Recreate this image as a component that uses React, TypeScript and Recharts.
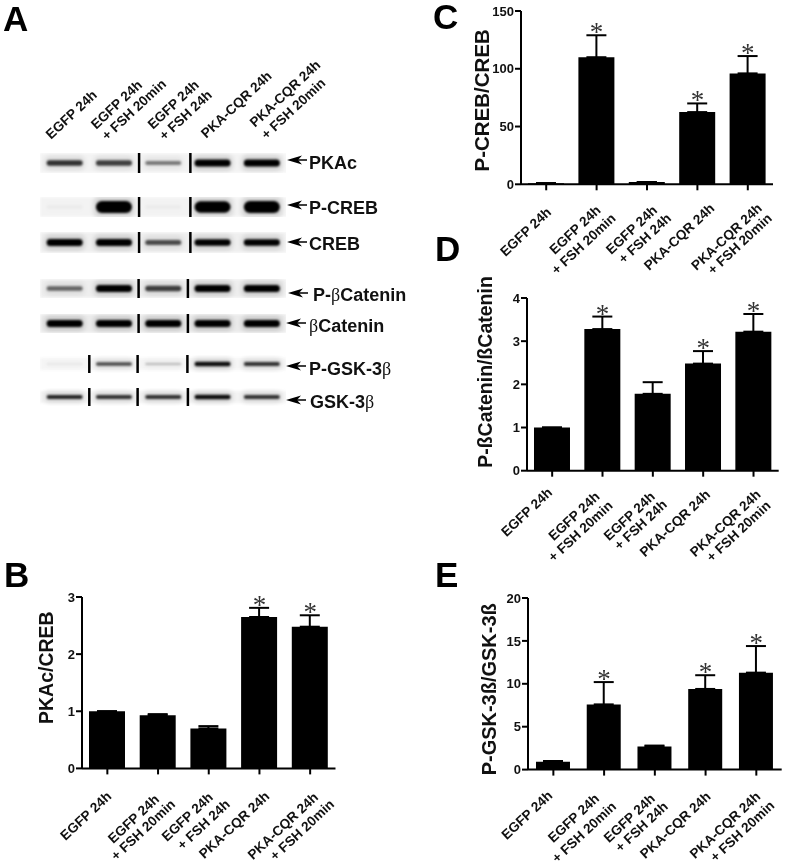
import {
  Bar,
  ComposedChart,
  ErrorBar,
  Line,
  ReferenceArea,
  ReferenceLine,
  Scatter,
  ScatterChart,
  XAxis,
  YAxis,
} from "recharts";

const FONT = "'Liberation Sans', Arial, sans-serif";

const laneLabels = [
  "EGFP 24h",
  "EGFP 24h|+ FSH 20min",
  "EGFP 24h|+ FSH 24h",
  "PKA-CQR 24h",
  "PKA-CQR 24h|+ FSH 20min",
];

// bar panels: means, upward error and whether an asterisk sits on the bar
const pkacMeans = [1, 0.93, 0.7, 2.65, 2.48];
const pkacErrors = [0, 0.02, 0.04, 0.16, 0.2];
const pkacStars = [false, false, false, true, true];
const pkacTicks = [0, 1, 2, 3];

const pcrebMeans = [1, 110, 2, 62.5, 96];
const pcrebErrors = [0, 19, 0, 7.5, 15];
const pcrebStars = [false, true, false, true, true];
const pcrebTicks = [0, 50, 100, 150];

const pcatMeans = [1, 3.28, 1.78, 2.48, 3.22];
const pcatErrors = [0, 0.29, 0.27, 0.29, 0.41];
const pcatStars = [false, true, false, true, true];
const pcatTicks = [0, 1, 2, 3, 4];

const pgskMeans = [0.9, 7.6, 2.7, 9.4, 11.3];
const pgskErrors = [0.1, 2.6, 0.1, 1.6, 3.1];
const pgskStars = [false, true, false, true, true];
const pgskTicks = [0, 5, 10, 15, 20];

// band darkness per lane on the blot
const pkacBands = [0.7, 0.65, 0.42, 1, 1];
const pcrebBands = [0.02, 1, 0.02, 0.95, 1];
const crebBands = [1, 1, 0.6, 0.9, 0.9];
const pcatBands = [0.5, 1, 0.65, 1, 1];
const catBands = [1, 1, 1, 1, 1];
const pgskBands = [0.06, 0.6, 0.2, 0.85, 0.7];
const gskBands = [0.75, 0.7, 0.7, 0.85, 0.7];

type Anchor = number[];

// end of each rotated label line, relative to its tick
const headerAnchors: Anchor[][] = [
  [[33.2, 34]],
  [[29, 24], [53, 23]],
  [[36.5, 24], [49.5, 34]],
  [[60, 15]],
  [[59.5, 4], [64.5, 22]],
];
const pkacAnchors: Anchor[][] = [
  [[5, 29]],
  [[2, 32], [18, 37]],
  [[5, 30], [22, 37]],
  [[11, 29]],
  [[9, 30], [25, 37]],
];
const pcrebAnchors: Anchor[][] = [
  [[6, 29]],
  [[5, 27], [20, 35]],
  [[11, 27], [25, 35]],
  [[18, 25]],
  [[15, 25], [25, 35]],
];
const pcatAnchors: Anchor[][] = [
  [[1, 23]],
  [[-2, 27], [11, 36]],
  [[3, 27], [15, 35]],
  [[8, 25]],
  [[8, 25], [18, 36]],
];
const pgskAnchors: Anchor[][] = [
  [[0, 27]],
  [[-4, 30], [13, 38]],
  [[1, 30], [14, 38]],
  [[6, 28]],
  [[5, 28], [19, 37]],
];

function AngledTick({ x, y, payload, index, anchors }: any) {
  const lines: string[] = String(payload.value).split("|");
  const laneAnchors = anchors[index];
  return (
    <g>
      {lines.map((line, i) => (
        <text
          key={line}
          transform={`translate(${x + laneAnchors[i][0]},${y - 6 + laneAnchors[i][1]}) rotate(-43)`}
          textAnchor="end"
          fontFamily={FONT}
          fontWeight={700}
          fontSize={13.6}
          fill="#111"
        >
          {line}
        </text>
      ))}
    </g>
  );
}

function StarDot({ cx, cy, value, index }: any) {
  if (value == null || cy == null) return <g key={index} />;
  return (
    <text
      key={index}
      x={cx}
      y={cy + 6}
      textAnchor="middle"
      fontFamily="'Liberation Serif', serif"
      fontSize={27}
      fill="#333"
    >
      *
    </text>
  );
}

interface BarPanelProps {
  left: number;
  top: number;
  width: number;
  height: number;
  title: string;
  titleDx: number;
  titleCy: number;
  titleSize: number;
  means: number[];
  errors: number[];
  stars: boolean[];
  ticks: number[];
  anchors: Anchor[][];
  barSize: number;
}

function BarPanel(p: BarPanelProps) {
  const data = laneLabels.map((lane, i) => ({
    lane,
    mean: p.means[i],
    err: [0, p.errors[i]],
    star: p.stars[i] ? p.means[i] + p.errors[i] : null,
  }));
  const axisStroke = { stroke: "#000", strokeWidth: 2 };
  return (
    <div style={{ position: "absolute", left: p.left - 60, top: p.top - 30 }}>
      <ComposedChart
        width={60 + p.width + 10}
        height={30 + p.height + 100}
        data={data}
        margin={{ top: 30, right: 10, bottom: 0, left: 0 }}
        style={{ overflow: "visible" }}
      >
        <XAxis
          dataKey="lane"
          height={100}
          interval={0}
          tickSize={6}
          tickMargin={0}
          axisLine={axisStroke}
          tickLine={axisStroke}
          tick={(t: any) => <AngledTick {...t} anchors={p.anchors} />}
        />
        <YAxis
          width={60}
          domain={[p.ticks[0], p.ticks[p.ticks.length - 1]]}
          ticks={p.ticks}
          interval={0}
          tickSize={6}
          tickMargin={1}
          axisLine={axisStroke}
          tickLine={axisStroke}
          tick={{ fontSize: 13, fontWeight: 700, fill: "#111", fontFamily: FONT }}
          label={{
            content: () => (
              <text
                transform={`translate(${60 - p.titleDx},${30 + p.titleCy}) rotate(-90)`}
                textAnchor="middle"
                dominantBaseline="central"
                fontFamily={FONT}
                fontWeight={700}
                fontSize={p.titleSize}
                fill="#111"
              >
                {p.title}
              </text>
            ),
          }}
        />
        <Bar dataKey="mean" fill="#000" barSize={p.barSize} isAnimationActive={false}>
          <ErrorBar dataKey="err" width={10} stroke="#000" strokeWidth={2} isAnimationActive={false} />
        </Bar>
        <Line
          dataKey="star"
          stroke="none"
          dot={(d: any) => <StarDot {...d} />}
          activeDot={false}
          isAnimationActive={false}
        />
      </ComposedChart>
    </div>
  );
}

function LaneHeader() {
  const data = laneLabels.map((lane) => ({ lane, n: 0 }));
  return (
    <div style={{ position: "absolute", left: 39.5, top: 30 }}>
      <ComposedChart
        width={346.5}
        height={132}
        data={data}
        margin={{ top: 30, right: 100, bottom: 0, left: 0 }}
        style={{ overflow: "visible" }}
      >
        <XAxis
          dataKey="lane"
          height={100}
          interval={0}
          tickSize={6}
          tickMargin={0}
          axisLine={false}
          tickLine={false}
          tick={(t: any) => <AngledTick {...t} anchors={headerAnchors} />}
        />
        <YAxis hide domain={[0, 1]} />
        <Bar dataKey="n" fill="none" isAnimationActive={false} />
      </ComposedChart>
    </div>
  );
}

function BlotBand({ cx, cy, payload, thickness }: any) {
  const v = payload.value;
  const h = thickness * (0.3 + 0.7 * v);
  return (
    <g>
      <rect
        x={cx - 20}
        y={cy - h / 2 - 4}
        width={40}
        height={h + 8}
        rx={5}
        fill="#000"
        opacity={0.14 * v}
        style={{ filter: "blur(2.5px)" }}
      />
      <rect
        x={cx - 18}
        y={cy - h / 2}
        width={36}
        height={h}
        rx={h / 2}
        fill="#000"
        opacity={Math.min(1, v * 1.1)}
        style={{ filter: "blur(0.9px)" }}
      />
    </g>
  );
}

interface BlotRowProps {
  name: React.ReactNode;
  bands: number[];
  cuts: number[];
  y: number;
  strip: number;
  chartHeight: number;
  thickness: number;
  arrowX: number;
  arrowY: number;
  labelX: number;
  labelY: number;
  shade: string;
}

function BlotRow(p: BlotRowProps) {
  const points = p.bands.map((value, lane) => ({ lane, mid: 0.5, value }));
  const ax = p.arrowX;
  const ay = p.arrowY;
  const inset = (1 - p.strip / p.chartHeight) / 2;
  return (
    <>
      <div style={{ position: "absolute", left: 39.5, top: p.y - p.chartHeight / 2 }}>
        <ScatterChart
          width={246.5}
          height={p.chartHeight}
          margin={{ top: 0, right: 0, bottom: 0, left: 0 }}
          style={{ overflow: "visible" }}
        >
          <XAxis hide type="number" dataKey="lane" domain={[-0.5, 4.5]} />
          <YAxis hide type="number" dataKey="mid" domain={[0, 1]} />
          <ReferenceArea
            x1={-0.5}
            x2={4.5}
            y1={inset}
            y2={1 - inset}
            fill={p.shade}
            fillOpacity={1}
            stroke="none"
            style={{ filter: "blur(1.5px)" }}
          />
          <Scatter
            data={points}
            isAnimationActive={false}
            shape={(s: any) => <BlotBand {...s} thickness={p.thickness} />}
          />
          {p.cuts.map((c) => (
            <ReferenceLine key={c} x={c} stroke="#000" strokeWidth={2.5} />
          ))}
        </ScatterChart>
      </div>
      <svg style={{ position: "absolute", left: 0, top: 0, pointerEvents: "none" }} width={787} height={863}>
        <polygon
          points={`${ax},${ay} ${ax + 15},${ay - 4.5} ${ax + 11},${ay} ${ax + 15},${ay + 4.5}`}
          fill="#000"
        />
        <line x1={ax + 8} y1={ay} x2={ax + 20} y2={ay} stroke="#000" strokeWidth={1.5} />
      </svg>
      <div
        style={{
          position: "absolute",
          left: p.labelX,
          top: p.labelY - 12,
          lineHeight: "24px",
          fontFamily: FONT,
          fontWeight: 700,
          fontSize: 18,
          color: "#111",
          whiteSpace: "nowrap",
        }}
      >
        {p.name}
      </div>
    </>
  );
}

const Beta = () => (
  <span style={{ fontFamily: "'Liberation Serif', serif", fontWeight: 400 }}>β</span>
);

function PanelLetter({ x, y, children }: any) {
  return (
    <div
      style={{
        position: "absolute",
        left: x,
        top: y - 31,
        lineHeight: "36px",
        fontFamily: FONT,
        fontWeight: 700,
        fontSize: 35,
        color: "#000",
      }}
    >
      {children}
    </div>
  );
}

export default function App() {
  return (
    <div style={{ position: "absolute", left: 0, top: 0, width: 787, height: 863, background: "#fff", overflow: "hidden", filter: "blur(0.35px)" }}>
      <PanelLetter x={3} y={32}>A</PanelLetter>
      <PanelLetter x={4} y={588}>B</PanelLetter>
      <PanelLetter x={433} y={30}>C</PanelLetter>
      <PanelLetter x={435} y={262}>D</PanelLetter>
      <PanelLetter x={435} y={588}>E</PanelLetter>

      <LaneHeader />
      <BlotRow name="PKAc" bands={pkacBands} cuts={[1.51, 2.55]} y={163} strip={20} chartHeight={20} thickness={7} arrowX={287} arrowY={160} labelX={309} labelY={163} shade="#f3f3f3" />
      <BlotRow name="P-CREB" bands={pcrebBands} cuts={[1.51, 2.55]} y={207} strip={20} chartHeight={20} thickness={12} arrowX={287} arrowY={205} labelX={309} labelY={208} shade="#f3f3f3" />
      <BlotRow name="CREB" bands={crebBands} cuts={[1.51, 2.55]} y={242} strip={21} chartHeight={21} thickness={7} arrowX={287} arrowY={242} labelX={309} labelY={244} shade="#efefef" />
      <BlotRow name={<>P-<Beta />Catenin</>} bands={pcatBands} cuts={[1.5, 2.5]} y={288} strip={19} chartHeight={19} thickness={7} arrowX={288} arrowY={293} labelX={313} labelY={295} shade="#eeeeee" />
      <BlotRow name={<><Beta />Catenin</>} bands={catBands} cuts={[1.5, 2.5]} y={323} strip={19} chartHeight={19} thickness={7} arrowX={286} arrowY={323} labelX={309} labelY={326} shade="#ebebeb" />
      <BlotRow name={<>P-GSK-3<Beta /></>} bands={pgskBands} cuts={[0.5, 1.48, 2.49]} y={364} strip={12} chartHeight={18} thickness={5} arrowX={286} arrowY={366} labelX={309} labelY={369} shade="#f5f5f5" />
      <BlotRow name={<>GSK-3<Beta /></>} bands={gskBands} cuts={[0.5, 1.48, 2.5]} y={397} strip={12} chartHeight={18} thickness={5} arrowX={286} arrowY={400} labelX={310} labelY={402} shade="#f3f3f3" />

      <BarPanel left={81.5} top={597.3} width={253.5} height={171.4} title="PKAc/CREB" titleDx={36} titleCy={70.7} titleSize={19.5} means={pkacMeans} errors={pkacErrors} stars={pkacStars} ticks={pkacTicks} anchors={pkacAnchors} barSize={36} />
      <BarPanel left={521} top={10.7} width={252} height={173.3} title="P-CREB/CREB" titleDx={40} titleCy={89.3} titleSize={20.5} means={pcrebMeans} errors={pcrebErrors} stars={pcrebStars} ticks={pcrebTicks} anchors={pcrebAnchors} barSize={36} />
      <BarPanel left={527.3} top={298.3} width={251.7} height={172.7} title="P-ßCatenin/ßCatenin" titleDx={42} titleCy={74} titleSize={19.5} means={pcatMeans} errors={pcatErrors} stars={pcatStars} ticks={pcatTicks} anchors={pcatAnchors} barSize={36} />
      <BarPanel left={528.3} top={597.7} width={253.7} height={171.6} title="P-GSK-3ß/GSK-3ß" titleDx={39} titleCy={91.3} titleSize={20} means={pgskMeans} errors={pgskErrors} stars={pgskStars} ticks={pgskTicks} anchors={pgskAnchors} barSize={34} />
    </div>
  );
}
